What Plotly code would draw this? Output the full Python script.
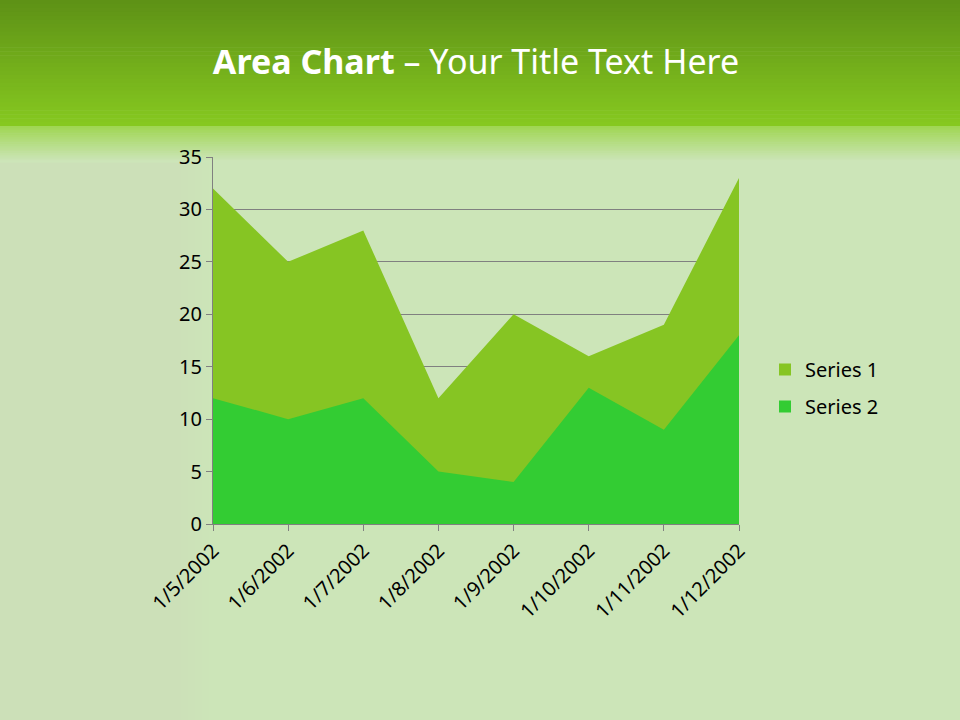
import plotly.graph_objects as go

categories = ["1/5/2002", "1/6/2002", "1/7/2002", "1/8/2002", "1/9/2002", "1/10/2002", "1/11/2002", "1/12/2002"]
series1 = [32, 25, 28, 12, 20, 16, 19, 33]
series2 = [12, 10, 12, 5, 4, 13, 9, 18]
y_ticks = [0, 5, 10, 15, 20, 25, 30, 35]

W, H = 960, 720
FONT = "Noto Sans"
C1 = "#86c523"
C2 = "#33cc33"

# plot area in pixels
PL, PR, PT, PB = 213, 739, 157, 524
PW, PH = PR - PL, PB - PT

def px_x(px):
    return (px - PL) / PW

def px_y(py):
    return (PB - py) / PH

fig = go.Figure()
fig.add_trace(go.Scatter(x=categories, y=series1, name="Series 1", mode="none",
                         fill="tozeroy", fillcolor=C1, showlegend=False, hoverinfo="x+y"))
fig.add_trace(go.Scatter(x=categories, y=series2, name="Series 2", mode="none",
                         fill="tozeroy", fillcolor=C2, showlegend=False, hoverinfo="x+y"))
# legend entries
fig.add_trace(go.Scatter(x=[None], y=[None], name="Series 1", mode="markers", legendgroup="a",
                         marker=dict(symbol="square", size=12, color=C1)))
fig.add_trace(go.Scatter(x=[None], y=[None], name="Series 2", mode="markers", legendgroup="b",
                         marker=dict(symbol="square", size=12, color=C2)))

shapes = []
def lerp(c1, c2, t):
    return "rgb(%d,%d,%d)" % tuple(round(a + (b - a) * t) for a, b in zip(c1, c2))

def band(py0, py1, color):
    shapes.append(dict(type="rect", xref="paper", yref="paper", layer="below",
                       x0=px_x(0), x1=px_x(W), y0=px_y(py0), y1=px_y(py1),
                       fillcolor=color, line=dict(width=0)))

body = (204, 229, 184)

# subtle lighter left glow (drawn first, under header)
for i in range(30):
    shapes.append(dict(type="rect", xref="paper", yref="paper", layer="below",
                       x0=px_x(0), x1=px_x(6 + i * 7), y0=px_y(H), y1=px_y(150),
                       fillcolor="rgba(226,239,204,0.03)", line=dict(width=0)))

# header gradient
top = (94, 146, 22)
mid = (134, 200, 32)
n = 32
for i in range(n):
    band(126 * i / n, 126 * (i + 1) / n + 0.6, lerp(top, mid, i / (n - 1)))
# transition band
b0 = (160, 214, 84)
m = 20
for i in range(m):
    band(126 + 36 * i / m, 126 + 36 * (i + 1) / m + 0.6, lerp(b0, body, i / (m - 1)))

fig.update_layout(
    width=W, height=H,
    margin=dict(l=PL, r=W - PR, t=PT, b=H - PB),
    paper_bgcolor="rgb(%d,%d,%d)" % body,
    plot_bgcolor="rgba(0,0,0,0)",
    font=dict(family=FONT, size=20, color="#000000"),
    title=dict(text="<b>Area Chart</b> – Your Title Text Here", x=0.5, xref="paper", xanchor="center",
               y=1 - 62 / H, yref="container", yanchor="middle",
               font=dict(family=FONT, size=34, color="#ffffff")),
    showlegend=True,
    legend=dict(x=px_x(765), y=px_y(388), xanchor="left", yanchor="middle", bgcolor="rgba(0,0,0,0)",
                font=dict(size=20), itemwidth=30, tracegroupgap=8),
    shapes=shapes,
    xaxis=dict(type="category", range=[0, 7], showgrid=False, tickangle=-45,
               ticks="outside", ticklen=6, tickcolor="#808080",
               showline=True, linecolor="#808080", linewidth=1,
               tickfont=dict(size=20), fixedrange=True),
    yaxis=dict(range=[0, 35], tickvals=y_ticks, showgrid=True, gridcolor="#808080", gridwidth=1,
               ticks="outside", ticklen=6, tickcolor="#808080",
               showline=True, linecolor="#808080", linewidth=1, zeroline=False,
               tickfont=dict(size=20), fixedrange=True),
)

fig.write_html("out.html", config={"displayModeBar": False},
               post_script="document.body.style.margin='0';document.body.style.overflow='hidden';")
